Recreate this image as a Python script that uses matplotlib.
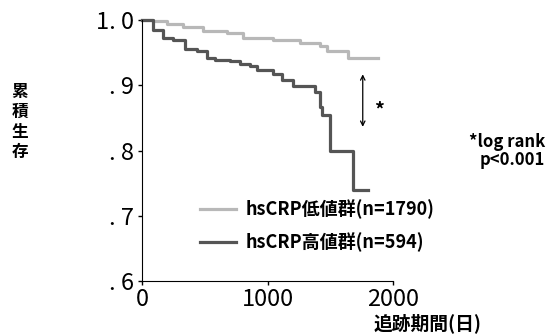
import matplotlib
matplotlib.use('Agg')
import matplotlib.pyplot as plt

plt.rcParams['font.family'] = ['Noto Sans CJK JP', 'DejaVu Sans']

# Kaplan-Meier curves (days, cumulative survival)
low_days = [0, 90, 197, 327, 486, 675, 806, 1046, 1259, 1418, 1471, 1640, 1880]
low_surv = [1.0, 0.998, 0.994, 0.990, 0.983, 0.980, 0.973, 0.969, 0.964, 0.960, 0.952, 0.942, 0.942]
high_days = [0, 90, 170, 250, 343, 436, 516, 582, 701, 781, 861, 914, 1046, 1113,
             1206, 1378, 1418, 1432, 1498, 1684, 1803]
high_surv = [1.0, 0.985, 0.973, 0.970, 0.955, 0.952, 0.942, 0.939, 0.937, 0.932, 0.929,
             0.923, 0.918, 0.908, 0.899, 0.890, 0.867, 0.855, 0.800, 0.740, 0.740]

labels = ['hsCRP低値群(n=1790)', 'hsCRP高値群(n=594)']
y_ticks = [0.6, 0.7, 0.8, 0.9, 1.0]
y_ticklabels = ['. 6', '. 7', '. 8', '. 9', '1. 0']
x_ticks = [0, 1000, 2000]

W, H = 551, 335
fig = plt.figure(figsize=(W / 100, H / 100), dpi=100)
ax = fig.add_axes([142 / W, 54 / H, 251 / W, 261 / H])

ax.step(low_days, low_surv, where='post', color='#b8b8b8', lw=2.3, label=labels[0], clip_on=False)
ax.step(high_days, high_surv, where='post', color='#555555', lw=2.3, label=labels[1], clip_on=False)

ax.set_xlim(0, 2000)
ax.set_ylim(0.6, 1.0)
ax.set_xticks(x_ticks)
ax.set_yticks(y_ticks)
ax.set_yticklabels(y_ticklabels)
ax.tick_params(labelsize=17, length=3, width=1)
ax.tick_params(axis='x', pad=2)
ax.tick_params(axis='y', pad=3)
for s in ['top', 'right']:
    ax.spines[s].set_visible(False)

# significance arrow
ax.annotate('', xy=(1759, 0.832), xytext=(1759, 0.921),
            arrowprops=dict(arrowstyle='<->', color='black', lw=0.9, mutation_scale=8))
ax.text(1888, 0.862, '*', fontsize=14, weight='bold', ha='center', va='center')

ax.legend(loc='center left', bbox_to_anchor=(200 / W, 1 - 226 / H), bbox_transform=fig.transFigure,
          frameon=False, handlelength=2.0, handletextpad=0.55,
          borderpad=0, borderaxespad=0, labelspacing=0.75, prop={'weight': 'bold', 'size': 13})

fig.text(20 / W, 1 - 122 / H, '累\n積\n生\n存', fontsize=12, weight='bold',
         ha='center', va='center', linespacing=1.15)
fig.text(482 / W, 1 - 323 / H, '追跡期間(日)', fontsize=13.5, weight='bold', ha='right', va='center')
fig.text(545 / W, 1 - 151 / H, '*log rank\np<0.001', fontsize=12, weight='bold',
         ha='right', va='center', multialignment='right', linespacing=1.0)

fig.savefig('out.png', dpi=100)
